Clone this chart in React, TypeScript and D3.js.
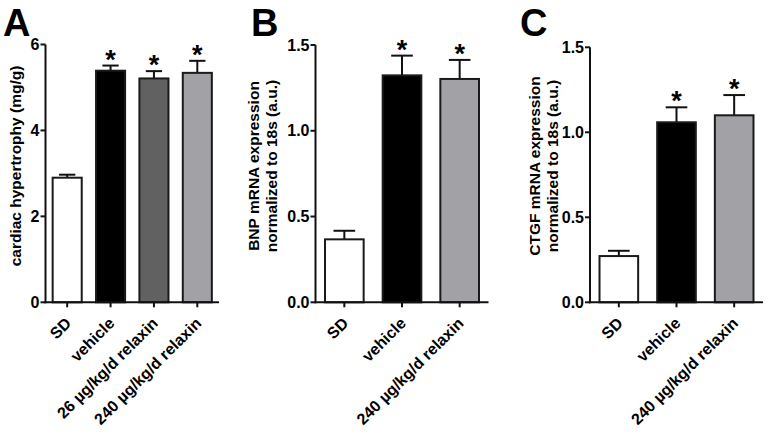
import React from "react";
import * as d3 from "d3";

// Panel A
const catsA = ["SD", "vehicle", "26 µg/kg/d relaxin", "240 µg/kg/d relaxin"];
const valsA = [2.9, 5.39, 5.21, 5.34];
const errA = [0.07, 0.12, 0.17, 0.28];
const sigA = [false, true, true, true];
const ticksA = [0, 2, 4, 6];
const fillsA = ["#ffffff", "#000000", "#616161", "#a2a2a6"];

// Panel B
const catsB = ["SD", "vehicle", "240 µg/kg/d relaxin"];
const valsB = [0.367, 1.323, 1.302];
const errB = [0.05, 0.115, 0.111];
const sigB = [false, true, true];
const ticksB = [0, 0.5, 1.0, 1.5];
const fillsB = ["#ffffff", "#000000", "#a2a2a6"];

// Panel C
const catsC = ["SD", "vehicle", "240 µg/kg/d relaxin"];
const valsC = [0.272, 1.059, 1.1];
const errC = [0.031, 0.088, 0.119];
const sigC = [false, true, true];
const ticksC = [0, 0.5, 1.0, 1.5];
const fillsC = ["#ffffff", "#000000", "#a2a2a6"];

const FONT = "'Liberation Sans', Arial, sans-serif";

type PanelProps = {
  letter: string;
  letterX: number;
  cats: string[];
  vals: number[];
  errs: number[];
  sig: boolean[];
  ticks: number[];
  fills: string[];
  fmt: (v: number) => string;
  x0: number;
  x1: number;
  yTop: number;
  yMax: number;
  titleLines: string[];
  titleX: number;
};

function Panel(p: PanelProps) {
  const yBase = 302.3;
  const y = d3.scaleLinear().domain([0, p.yMax]).range([yBase, p.yTop]);
  const x = d3.scaleBand<string>().domain(p.cats).range([p.x0, p.x1]).paddingInner(0.33).paddingOuter(0.165);
  const bw = x.bandwidth();
  const titleCenterY = 166;
  return (
    <g fontFamily={FONT} fontWeight="bold">
      <text x={p.letterX} y={36} fontSize={38} fill="#000">{p.letter}</text>
      {p.titleLines.map((t, i) => (
        <text
          key={i}
          transform={`translate(${p.titleX + i * 18},${titleCenterY}) rotate(-90)`}
          textAnchor="middle"
          fontSize={15.5}
          fill="#000"
        >{t}</text>
      ))}
      {p.cats.map((c, i) => {
        const cx = (x(c) as number) + bw / 2;
        const top = y(p.vals[i]);
        const et = y(p.vals[i] + p.errs[i]);
        const cap = bw * 0.56;
        return (
          <g key={c}>
            <line x1={cx} x2={cx} y1={top} y2={et} stroke="#111" strokeWidth={2} />
            <line x1={cx - cap / 2} x2={cx + cap / 2} y1={et} y2={et} stroke="#111" strokeWidth={2} />
            <rect x={x(c)} y={top} width={bw} height={yBase - top} fill={p.fills[i]} stroke="#1a1a1a" strokeWidth={2} />
            {p.sig[i] && (
              <text x={cx} y={et + 3} textAnchor="middle" fontSize={27} fill="#000">*</text>
            )}
            <line x1={cx} x2={cx} y1={yBase} y2={yBase + 5} stroke="#111" strokeWidth={2} />
            <text
              transform={`translate(${cx + 5},${yBase + 22}) rotate(-45)`}
              textAnchor="end"
              fontSize={16}
              fill="#000"
            >{c}</text>
          </g>
        );
      })}
      <line x1={p.x0} x2={p.x0} y1={yBase + 1} y2={p.yTop} stroke="#111" strokeWidth={2} />
      <line x1={p.x0 - 1} x2={p.x1} y1={yBase} y2={yBase} stroke="#111" strokeWidth={2} />
      {p.ticks.map((t) => (
        <g key={t}>
          <line x1={p.x0 - 5} x2={p.x0} y1={y(t)} y2={y(t)} stroke="#111" strokeWidth={2} />
          <text x={p.x0 - 6} y={y(t) + 5.5} textAnchor="end" fontSize={16} fill="#000">{p.fmt(t)}</text>
        </g>
      ))}
    </g>
  );
}

export default function App() {
  const f0 = d3.format("d");
  const f1 = d3.format(".1f");
  return (
    <svg width={768} height={435} style={{ position: "absolute", left: 0, top: 0, background: "#fff" }}>
      <rect width={768} height={435} fill="#fff" />
      <Panel letter="A" letterX={3} cats={catsA} vals={valsA} errs={errA} sig={sigA} ticks={ticksA}
        fills={fillsA} fmt={f0} x0={45.5} x1={219} yTop={44.5} yMax={6}
        titleLines={["cardiac hypertrophy (mg/g)"]} titleX={21} />
      <Panel letter="B" letterX={251} cats={catsB} vals={valsB} errs={errB} sig={sigB} ticks={ticksB}
        fills={fillsB} fmt={f1} x0={315.5} x1={488.5} yTop={45} yMax={1.5}
        titleLines={["BNP mRNA expression", "normalized to 18s (a.u.)"]} titleX={259} />
      <Panel letter="C" letterX={520} cats={catsC} vals={valsC} errs={errC} sig={sigC} ticks={ticksC}
        fills={fillsC} fmt={f1} x0={590} x1={763} yTop={47.3} yMax={1.5}
        titleLines={["CTGF mRNA expression", "normalized to 18s (a.u.)"]} titleX={540} />
    </svg>
  );
}
